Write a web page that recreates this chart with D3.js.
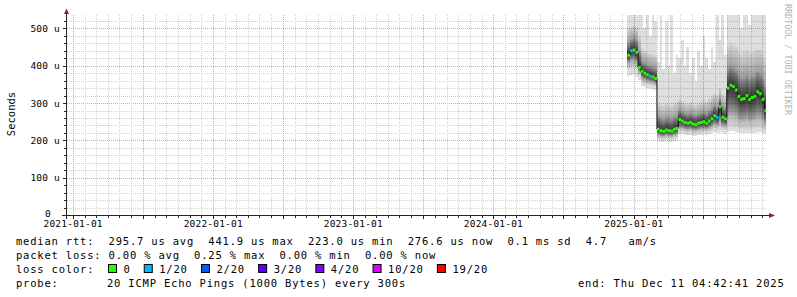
<!DOCTYPE html>
<html lang="en">
<head>
<meta charset="UTF-8">
<title>SmokePing latency - last 5 years</title>
<script src="https://d3js.org/d3.v7.min.js"></script>
<style>
  body { margin: 0; background: #fff; }
  svg { display: block; }
  text { font-family: "DejaVu Sans Mono", monospace; }
</style>
</head>
<body>
<div id="chart"></div>
<script>
// weekly samples (Sundays from 2024-12-15), values in microseconds
const median  = [428,440,442,436,395,385,380,376,372,370,366,230,226,224,228,226,225,230,232,256,252,248,246,248,244,242,246,248,250,246,252,258,266,262,290,262,258,340,348,344,335,318,310,312,320,310,315,318,330,325,310,280];
const pingMin = [372,375,378,370,362,345,342,340,338,336,335,198,196,195,197,196,195,198,200,218,216,215,214,215,213,212,214,215,216,214,217,220,222,221,222,220,218,222,224,224,222,220,220,220,221,220,220,221,222,222,220,218];
const ping10  = [392,395,398,390,375,355,352,350,348,346,345,206,204,203,206,205,204,207,208,226,224,222,221,222,220,219,221,222,224,222,225,228,232,230,235,230,228,235,238,237,235,232,230,231,233,230,231,232,234,233,230,226];
const ping25  = [410,415,418,412,388,368,364,360,358,356,354,214,212,211,214,213,212,215,216,234,232,230,229,230,228,227,229,231,232,230,234,237,242,240,250,240,238,262,268,266,262,255,252,253,256,252,254,255,260,258,252,245];
const ping75  = [460,470,475,468,440,410,405,400,398,395,392,262,258,255,260,258,256,262,264,280,276,272,270,272,268,266,270,274,276,272,278,284,292,288,310,290,285,390,398,395,388,372,365,368,375,366,370,372,382,378,366,345];
const ping90  = [500,505,510,505,480,445,440,435,432,430,428,300,295,292,298,296,294,300,302,310,305,300,298,302,296,294,300,305,308,304,310,318,325,322,340,325,318,450,460,455,450,440,432,436,442,434,438,440,446,444,432,420];
const pingMax = [536,536,536,536,536,536,500,536,480,536,520,410,536,390,520,400,536,380,430,420,470,400,450,380,420,360,440,400,480,420,390,450,410,536,470,536,430,536,536,536,536,536,500,536,536,510,536,536,536,536,536,536];
const lossCount = [0,1,0,0,0,0,0,0,1,0,0,0,0,0,0,0,0,0,0,0,0,0,0,0,0,0,0,0,0,0,0,0,0,1,0,0,0,0,0,0,0,0,0,0,0,0,0,0,0,0,0,0];

const yearTicks  = ["2021-01-01", "2022-01-01", "2023-01-01", "2024-01-01", "2025-01-01"];
const lossSteps  = [0, 1, 2, 3, 4, 10, 19];
const lossLabels = ["0", "1/20", "2/20", "3/20", "4/20", "10/20", "19/20"];
const lossColors = ["#26ff00", "#00b8ff", "#0059ff", "#5e00ff", "#7e00ff", "#dd00ff", "#ff0000"];

const statsLine = "median rtt:  295.7 us avg  441.9 us max  223.0 us min  276.6 us now  0.1 ms sd  4.7   am/s";
const lossLine  = "packet loss: 0.00 % avg  0.25 % max  0.00 % min  0.00 % now";
const probeText = "20 ICMP Echo Pings (1000 Bytes) every 300s";
const endText   = "end: Thu Dec 11 04:42:41 2025";

const width = 797, height = 297;
const tStart = new Date(2020, 11, 16), tEnd = new Date(2025, 11, 11, 4, 42, 41);
const weeks = d3.timeWeek.range(new Date(2024, 11, 15), new Date(2025, 11, 8));

const x = d3.scaleTime().domain([tStart, tEnd]).range([67, 766]);
const y = d3.scaleLinear().domain([0, 536]).range([215, 15]);
const px = v => Math.round(v) + 0.5;

const svg = d3.select("#chart").append("svg")
    .attr("width", width).attr("height", height);

const defs = svg.append("defs");
defs.append("clipPath").attr("id", "plot")
  .append("rect").attr("x", 67).attr("y", 15).attr("width", 699).attr("height", 200);

// grid
const grid = svg.append("g");
d3.range(20, 537, 20).forEach(v => {
    const major = v % 100 === 0;
    grid.append("line")
        .attr("x1", 67).attr("x2", 766)
        .attr("y1", px(y(v))).attr("y2", px(y(v)))
        .attr("stroke", major ? "#e3a3a3" : "#d2d2d2")
        .attr("stroke-dasharray", "1,1");
});
d3.timeMonth.range(tStart, tEnd).forEach(d => {
    const major = d.getMonth() % 6 === 0;
    grid.append("line")
        .attr("x1", px(x(d))).attr("x2", px(x(d)))
        .attr("y1", 15).attr("y2", 215)
        .attr("stroke", major ? "#e3a3a3" : "#d2d2d2")
        .attr("stroke-dasharray", "1,1");
});

// smoke: light full range, then shaded bands that darken towards the median
const plot = svg.append("g").attr("clip-path", "url(#plot)");
const xEnd = i => i < weeks.length - 1 ? x(weeks[i + 1]) : x.range()[1];

function shade(name, lo, hi, peak) {
    weeks.forEach((d, i) => {
        const off = (y(median[i]) - y(hi[i])) / (y(lo[i]) - y(hi[i]));
        const g = defs.append("linearGradient").attr("id", name + i)
            .attr("x1", 0).attr("y1", 0).attr("x2", 0).attr("y2", 1);
        [[0, 0.05], [off, peak], [1, 0.05]].forEach(([o, a]) =>
            g.append("stop").attr("offset", Math.max(0, Math.min(1, o)))
             .attr("stop-color", "#000").attr("stop-opacity", a));
    });
    plot.append("g").selectAll("rect")
        .data(weeks)
        .enter().append("rect")
        .attr("x", d => x(d))
        .attr("width", (d, i) => xEnd(i) - x(d))
        .attr("y", (d, i) => y(hi[i]))
        .attr("height", (d, i) => y(lo[i]) - y(hi[i]))
        .attr("fill", (d, i) => `url(#${name}${i})`)
        .attr("shape-rendering", "crispEdges");
}

plot.append("g").selectAll("rect")
    .data(weeks)
    .enter().append("rect")
    .attr("x", d => x(d))
    .attr("width", (d, i) => xEnd(i) - x(d))
    .attr("y", (d, i) => y(pingMax[i]))
    .attr("height", (d, i) => y(pingMin[i]) - y(pingMax[i]))
    .attr("fill", "#000")
    .attr("fill-opacity", 0.13)
    .attr("shape-rendering", "crispEdges");
shade("s10_", ping10, ping90, 0.5);
shade("s25_", ping25, ping75, 0.55);

// median line
const medPts = weeks.map((d, i) => [x(d), y(median[i])]);
medPts.push([x.range()[1], y(median[median.length - 1])]);
plot.append("path")
    .attr("d", d3.line().curve(d3.curveStepAfter)(medPts))
    .attr("fill", "none")
    .attr("stroke", "#111")
    .attr("stroke-width", 1);

const lossColor = n => {
    let c = lossColors[0];
    lossSteps.forEach((s, k) => { if (n >= s) c = lossColors[k]; });
    return c;
};
plot.append("g").selectAll("rect")
    .data(weeks)
    .enter().append("rect")
    .attr("x", d => x(d))
    .attr("width", (d, i) => xEnd(i) - x(d))
    .attr("y", (d, i) => y(median[i]) - 1.5)
    .attr("height", 3)
    .attr("fill", (d, i) => lossColor(lossCount[i]));

// axes
const axisColor = "#222", arrowColor = "#9b1c1c";
svg.append("line").attr("x1", 62).attr("x2", 769).attr("y1", 215.5).attr("y2", 215.5)
    .attr("stroke", axisColor);
svg.append("line").attr("x1", 66.5).attr("x2", 66.5).attr("y1", 219).attr("y2", 13)
    .attr("stroke", axisColor);
svg.append("path").attr("d", "M64,14L66.5,8.5L69,14Z").attr("fill", arrowColor);
svg.append("path").attr("d", "M769,213L775,215.5L769,218Z").attr("fill", arrowColor);

// tick marks
d3.range(20, 537, 20).forEach(v => {
    const len = v % 100 === 0 ? 3 : 2;
    svg.append("line").attr("x1", 66 - len).attr("x2", 66)
        .attr("y1", px(y(v))).attr("y2", px(y(v))).attr("stroke", axisColor);
});
d3.timeMonth.range(tStart, tEnd).forEach(d => {
    const len = d.getMonth() % 6 === 0 ? 3 : 2;
    svg.append("line").attr("x1", px(x(d))).attr("x2", px(x(d)))
        .attr("y1", 216).attr("y2", 216 + len).attr("stroke", axisColor);
});

// tick labels
const axisFont = { "font-size": "9.5px", "letter-spacing": "0.2px", "fill": "#000" };
d3.range(0, 501, 100).forEach(v => {
    const t = svg.append("text")
        .attr("x", v === 0 ? 51 : 60)
        .attr("y", v === 0 ? 216.5 : y(v) + 3.5)
        .attr("text-anchor", "end")
        .text(v === 0 ? "0" : v + " u");
    Object.entries(axisFont).forEach(([k, val]) => t.attr(k, val));
});
const parseDay = d3.timeParse("%Y-%m-%d");
yearTicks.forEach(s => {
    const t = svg.append("text")
        .attr("x", x(parseDay(s)))
        .attr("y", 227)
        .attr("text-anchor", "middle")
        .text(s);
    Object.entries(axisFont).forEach(([k, val]) => t.attr(k, val));
});

svg.append("text")
    .attr("transform", "translate(14.5,114) rotate(-90)")
    .attr("text-anchor", "middle")
    .attr("font-size", "10.5px")
    .text("Seconds");

svg.append("text")
    .attr("transform", "translate(784.5,4) rotate(90)")
    .attr("font-size", "8.4px")
    .attr("fill", "#b4b4b4")
    .text("RRDTOOL / TOBI OETIKER");

// legend / summary
const cw = 7.15;
const legendText = (tx, ty, s) => svg.append("text")
    .attr("x", tx).attr("y", ty)
    .attr("font-size", "10.5px")
    .attr("letter-spacing", "0.8px")
    .style("white-space", "pre")
    .text(s);

legendText(16, 245, statsLine);
legendText(16, 259, lossLine);
legendText(16, 273, "loss color:");
let lx = 108.5;
lossLabels.forEach((lab, k) => {
    svg.append("rect")
        .attr("x", lx).attr("y", 264.5).attr("width", 8).attr("height", 8)
        .attr("fill", lossColors[k]).attr("stroke", "#000");
    legendText(lx + 15, 273, lab);
    lx += (4 + lab.length) * cw;
});
legendText(16, 287, "probe:");
legendText(107, 287, probeText);
legendText(578, 287, endText);
</script>
</body>
</html>
